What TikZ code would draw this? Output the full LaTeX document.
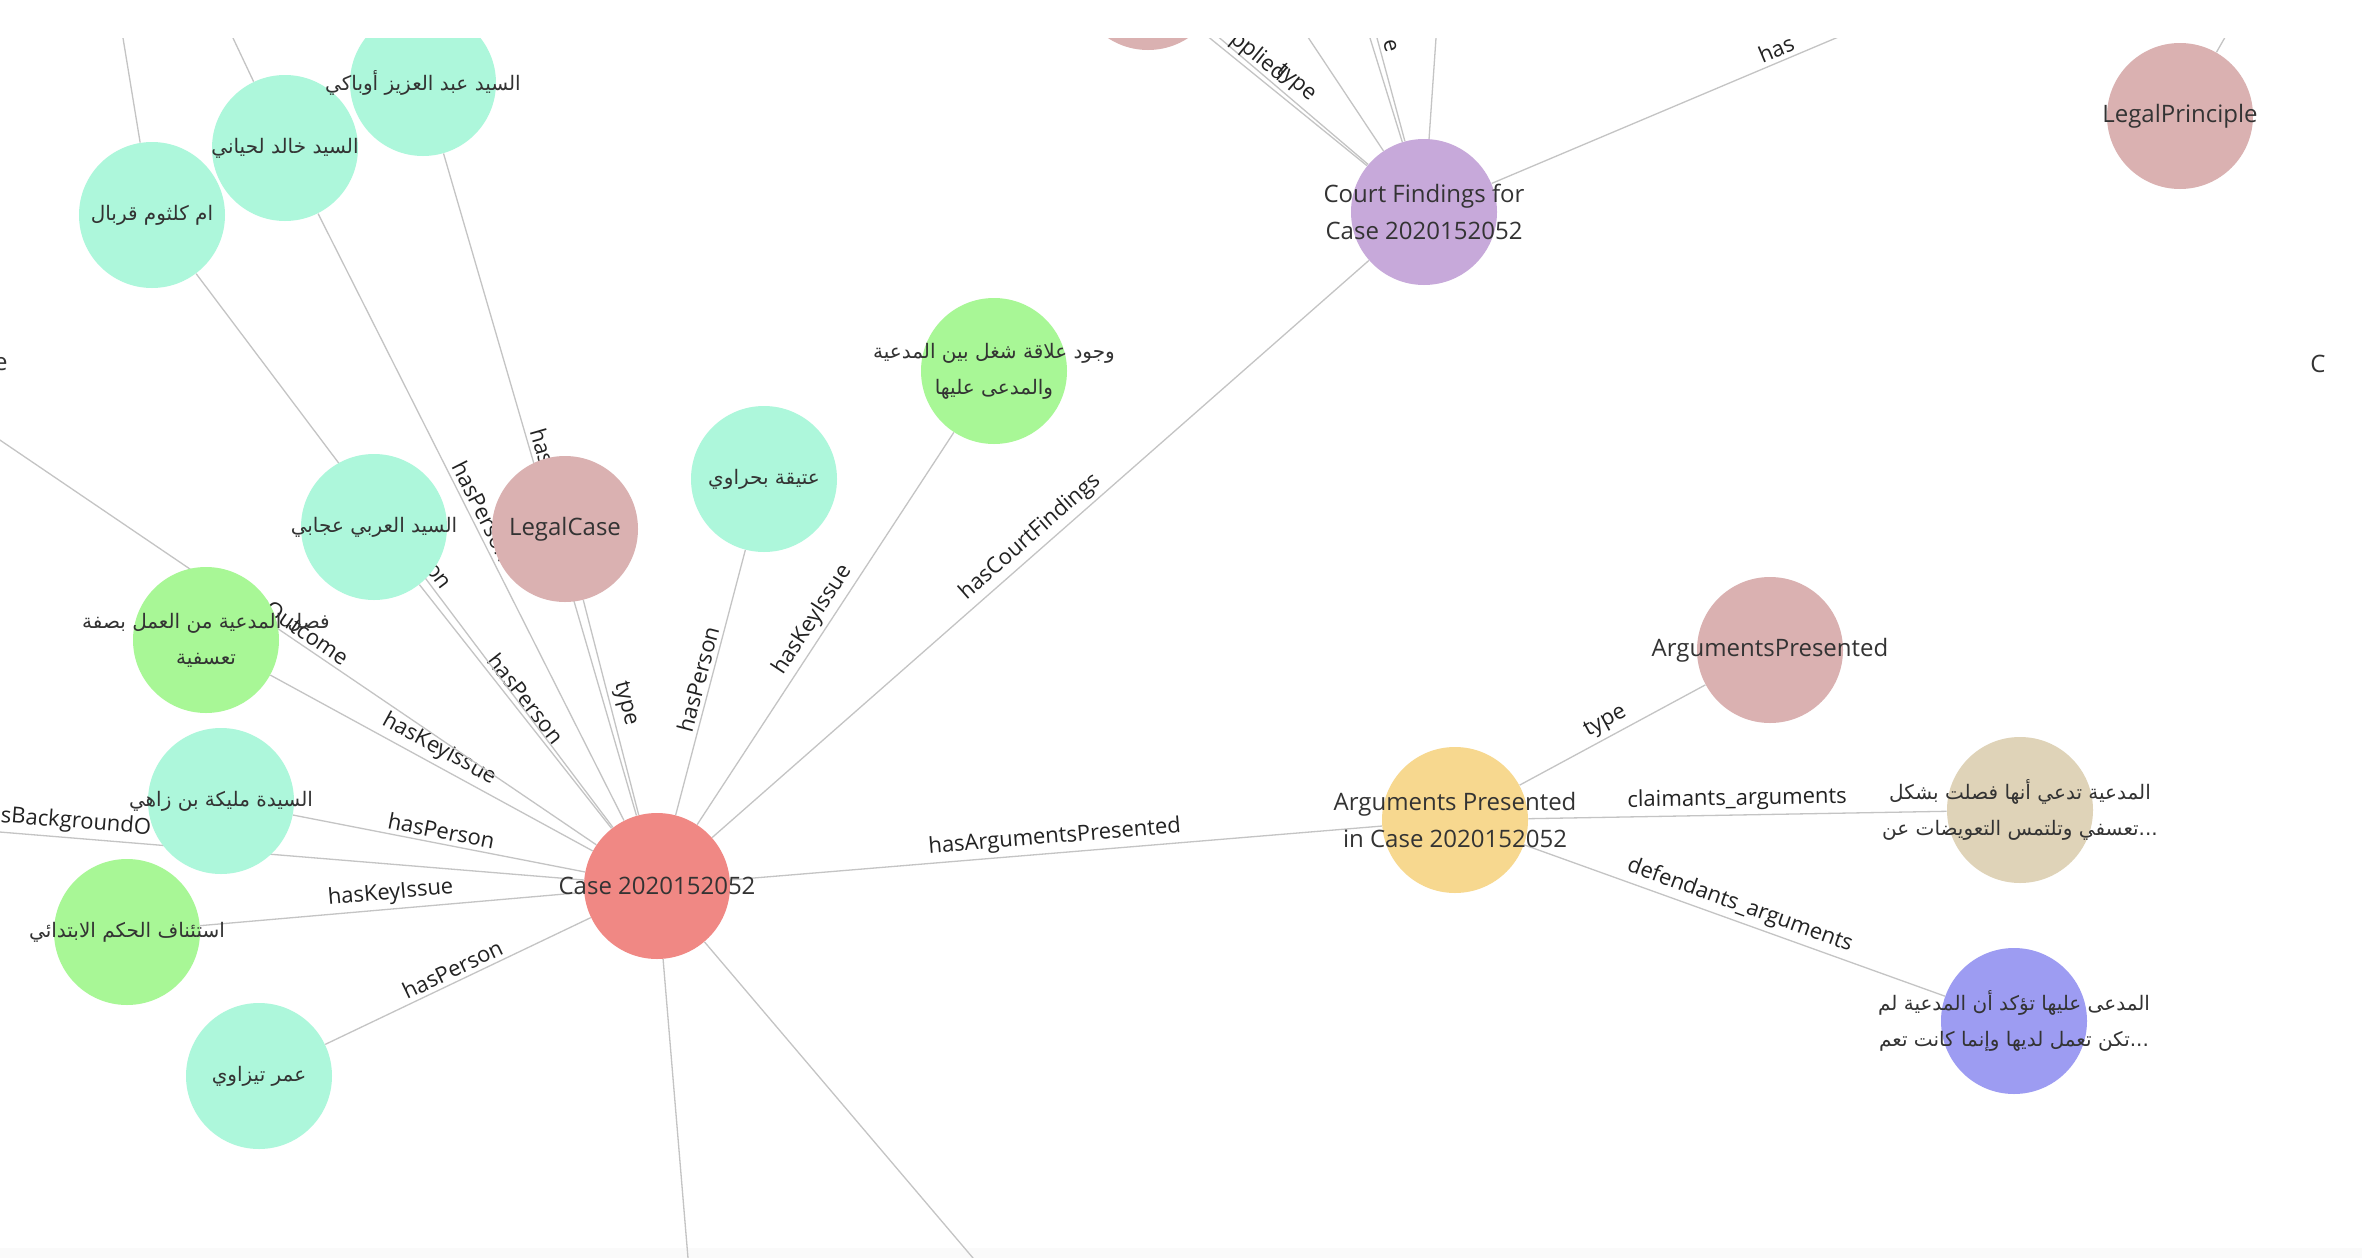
\documentclass[tikz,border=0pt]{standalone}
\usepackage{fontspec}
\setmainfont{Open Sans}
\newfontfamily\arfont[Script=Arabic]{DejaVu Sans}
\TeXXeTstate=1
\pgfdeclarelayer{edgelayer}
\pgfsetlayers{edgelayer,main}
\definecolor{casecol}{HTML}{F08884}
\definecolor{typecol}{HTML}{DAB1B1}
\definecolor{personcol}{HTML}{ADF7DB}
\definecolor{issuecol}{HTML}{A8F796}
\definecolor{findcol}{HTML}{C7A9DA}
\definecolor{argcol}{HTML}{F7D88F}
\definecolor{claimcol}{HTML}{DFD3B8}
\definecolor{defcol}{HTML}{9D9CF2}
\definecolor{linecol}{HTML}{C4C4C4}
\definecolor{txtcol}{HTML}{333333}
\definecolor{lblcol}{HTML}{222222}
\definecolor{bandcol}{HTML}{FAFAFA}
\tikzset{
  gnode/.style={circle, inner sep=0pt, minimum size=73pt, draw=none},
  ntxt/.style={font=\fontsize{12}{18.5}\selectfont, text=txtcol, align=center, inner sep=0pt},
  atxt/.style={font=\arfont\fontsize{10}{18}\selectfont, text=txtcol, align=center, inner sep=0pt},
  edge/.style={draw=linecol, line width=0.65pt},
  elbl/.style={font=\fontsize{11}{13}\selectfont, text=lblcol, sloped, above, inner sep=2pt},
}
\begin{document}
\begin{tikzpicture}[x=0.5pt,y=-0.5pt]
\useasboundingbox (0,0) rectangle (2362,1258);

% nodes
\node[gnode, fill=casecol, label={[ntxt]center:Case 2020152052}] (case) at (657,886) {};
\node[gnode, fill=typecol, label={[ntxt]center:LegalCase}] (legalcase) at (565,529) {};
\node[gnode, fill=personcol, label={[atxt]center:{\beginR عتيقة بحراوي\endR}}] (atiqa) at (764,479) {};
\node[gnode, fill=issuecol, label={[atxt]center:{\beginR وجود علاقة شغل بين المدعية\endR\\\beginR والمدعى عليها\endR}}] (wujud) at (994,371) {};
\node[gnode, fill=findcol, label={[ntxt]center:{Court Findings for\\Case 2020152052}}] (court) at (1424,212) {};
\node[gnode, fill=typecol, label={[ntxt]center:LegalPrinciple}] (lp) at (2180,116) {};
\node[gnode, fill=typecol, label={[ntxt]center:ArgumentsPresented}] (argtype) at (1770,650) {};
\node[gnode, fill=argcol, label={[ntxt]center:{Arguments Presented\\in Case 2020152052}}] (args) at (1455,820) {};
\node[gnode, fill=claimcol, label={[atxt]center:{\beginR المدعية تدعي أنها فصلت بشكل\endR\\\beginR تعسفي وتلتمس التعويضات عن\endR...}}] (claim) at (2020,810) {};
\node[gnode, fill=defcol, label={[atxt]center:{\beginR المدعى عليها تؤكد أن المدعية لم\endR\\\beginR تكن تعمل لديها وإنما كانت تعم\endR...}}] (def) at (2014,1021) {};
\node[gnode, fill=personcol, label={[atxt]center:{\beginR عمر تيزاوي\endR}}] (omar) at (259,1076) {};
\node[gnode, fill=issuecol, label={[atxt]center:{\beginR استئناف الحكم الابتدائي\endR}}] (istinaf) at (127,932) {};
\node[gnode, fill=personcol, label={[atxt]center:{\beginR السيدة مليكة بن زاهي\endR}}] (malika) at (221,801) {};
\node[gnode, fill=issuecol, label={[atxt]center:{\beginR فصل المدعية من العمل بصفة\endR\\\beginR تعسفية\endR}}] (fasl) at (206,640) {};
\node[gnode, fill=personcol, label={[atxt]center:{\beginR السيد العربي عجابي\endR}}] (arabi) at (374,527) {};
\node[gnode, fill=personcol, label={[atxt]center:{\beginR ام كلثوم قربال\endR}}] (kulthum) at (152,215) {};
\node[gnode, fill=personcol, label={[atxt]center:{\beginR السيد خالد لحياني\endR}}] (khalid) at (285,148) {};
\node[gnode, fill=personcol, label={[atxt]center:{\beginR السيد عبد العزيز أوباكي\endR}}] (aziz) at (423,83) {};
\node[gnode, fill=typecol] (ptop) at (1148,-23) {};

% cut-off texts of nodes outside the frame
\node[ntxt, anchor=base east] (leftfrag) at (8,370) {e};
\node[ntxt, anchor=base west] (rightfrag) at (2310,372) {C};

% free ends of connectors leaving the frame
\coordinate (oc) at (-90,379);
\coordinate (bgx) at (-200,815.6);
\coordinate (bot1) at (703.5,1444);
\coordinate (bot2) at (1131,1444);
\coordinate (kuX) at (94,-139);
\coordinate (khX) at (181,-72);
\coordinate (apX) at (1121,-34);
\coordinate (c3X) at (1205,-118);
\coordinate (c4X) at (1316,-136);
\coordinate (c5X) at (1330,-136);
\coordinate (c6X) at (1448,-136);
\coordinate (c7X) at (2248,-136);
\coordinate (lpX) at (2315,-120);

\begin{pgfonlayer}{edgelayer}
\fill[white] (0,0) rectangle (2362,1258);
\fill[bandcol] (0,1248) rectangle (2362,1258);
\draw[edge] (case) -- (omar) node[elbl, midway] {hasPerson};
\draw[edge] (case) -- (istinaf) node[elbl, midway] {hasKeyIssue};
\draw[edge] (case) -- (malika) node[elbl, midway] {hasPerson};
\draw[edge] (case) -- (fasl) node[elbl, midway] {hasKeyIssue};
\draw[edge] (case) -- (arabi) node[elbl, midway] {hasPerson};
\draw[edge] (case) -- (kulthum) node[elbl, midway] {hasPerson};
\draw[edge] (case) -- (khalid) node[elbl, midway] {hasPerson};
\draw[edge] (case) -- (aziz) node[elbl, midway] {hasPerson};
\draw[edge] (case) -- (legalcase) node[elbl, midway] {type};
\draw[edge] (case) -- (atiqa) node[elbl, midway] {hasPerson};
\draw[edge] (case) -- (wujud) node[elbl, midway] {hasKeyIssue};
\draw[edge] (case) -- (court) node[elbl, midway] {hasCourtFindings};
\draw[edge] (case) -- (args) node[elbl, midway] {hasArgumentsPresented};
\draw[edge] (args) -- (argtype) node[elbl, midway] {type};
\draw[edge] (args) -- (claim) node[elbl, midway] {claimants\_arguments};
\draw[edge] (args) -- (def) node[elbl, midway] {defendants\_arguments};
\draw[edge] (case) -- (oc) node[elbl, pos=0.454] {hasOutcome};
\draw[edge] (case) -- (bgx) node[elbl, pos=0.666] {hasBackgroundO};
\draw[edge] (case) -- (bot1);
\draw[edge] (case) -- (bot2);
\draw[edge] (kulthum) -- (kuX);
\draw[edge] (khalid) -- (khX);
\draw[edge] (court) -- (ptop) node[elbl, midway] {type};
\draw[edge] (court) -- (apX) node[elbl, pos=0.484] {pplied};
\draw[edge] (court) -- (c3X);
\draw[edge] (court) -- (c4X);
\draw[edge] (court) -- (c5X) node[elbl, pos=0.335] {e};
\draw[edge] (court) -- (c6X);
\draw[edge] (court) -- (c7X) node[elbl, pos=0.355, anchor=south west] {has};
\draw[edge] (lp) -- (lpX);
\end{pgfonlayer}

% top band of the frame
\fill[white] (0,0) rectangle (2362,38);
\end{tikzpicture}
\end{document}
